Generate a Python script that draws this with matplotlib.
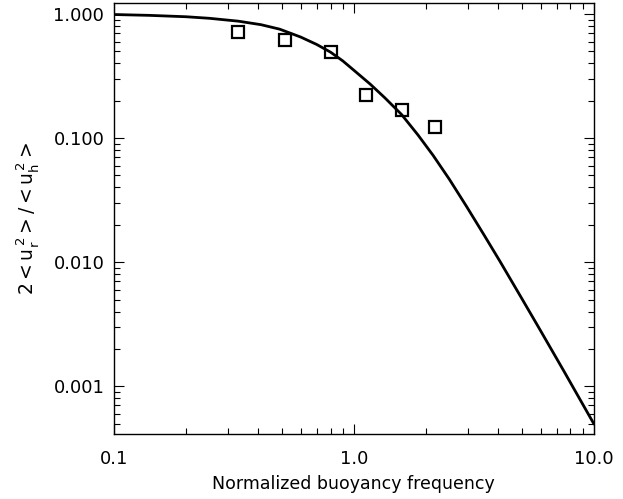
import matplotlib
matplotlib.use('Agg')
import matplotlib.pyplot as plt
from matplotlib.ticker import FixedLocator, FixedFormatter, LogLocator, NullFormatter

# curve
curve_x = [0.10, 0.14, 0.20, 0.25, 0.33, 0.41, 0.49, 0.60, 0.70, 0.80, 0.90, 1.00, 1.17, 1.35,
           1.58, 1.85, 2.14, 2.50, 2.95, 3.50, 4.06, 5.00, 5.93, 7.50, 10.0]
curve_y = [0.99, 0.975, 0.95, 0.923, 0.875, 0.82, 0.755, 0.652, 0.568, 0.492, 0.418, 0.352, 0.272, 0.210,
           0.155, 0.106, 0.0725, 0.0466, 0.0281, 0.0164, 0.0102, 0.00514, 0.00292, 0.00133, 0.0005]

# simulation points (squares)
pts_x = [0.329, 0.518, 0.80, 1.122, 1.58, 2.18]
pts_y = [0.711, 0.620, 0.497, 0.222, 0.168, 0.122]

xticks = [0.1, 1.0, 10.0]
xticklabels = ['0.1', '1.0', '10.0']
yticks = [0.001, 0.01, 0.1, 1.0]
yticklabels = ['0.001', '0.010', '0.100', '1.000']

plt.rcParams['mathtext.default'] = 'regular'

fig = plt.figure(figsize=(6.23, 4.99), dpi=100)
ax = fig.add_axes([0.183, 0.131, 0.770, 0.862])

ax.plot(curve_x, curve_y, '-k', linewidth=2.0)
ax.plot(pts_x, pts_y, 's', markersize=8.5, markerfacecolor='none',
        markeredgecolor='k', markeredgewidth=1.6, linestyle='none')

ax.set_xscale('log')
ax.set_yscale('log')
ax.set_xlim(0.1, 10.0)
ax.set_ylim(0.000415, 1.215)

ax.xaxis.set_major_locator(FixedLocator(xticks))
ax.xaxis.set_major_formatter(FixedFormatter(xticklabels))
ax.yaxis.set_major_locator(FixedLocator(yticks))
ax.yaxis.set_major_formatter(FixedFormatter(yticklabels))
ax.xaxis.set_minor_locator(LogLocator(base=10, subs=range(2, 10)))
ax.yaxis.set_minor_locator(LogLocator(base=10, subs=range(2, 10)))
ax.xaxis.set_minor_formatter(NullFormatter())
ax.yaxis.set_minor_formatter(NullFormatter())

ax.tick_params(which='both', direction='in', top=True, right=True, width=0.8)
ax.tick_params(which='major', length=7)
ax.tick_params(which='minor', length=4)
ax.tick_params(axis='x', which='major', pad=12, labelsize=13)
ax.tick_params(axis='y', which='major', pad=7, labelsize=13)

for s in ax.spines.values():
    s.set_linewidth(1.0)

ax.set_xlabel("Normalized buoyancy frequency", fontsize=12.5, labelpad=5)
ax.set_ylabel(r"$2{<}u_r^{\,2}{>}/{<}u_h^{\,2}{>}$", fontsize=13.5, labelpad=9)

fig.savefig('out.png', dpi=100)
